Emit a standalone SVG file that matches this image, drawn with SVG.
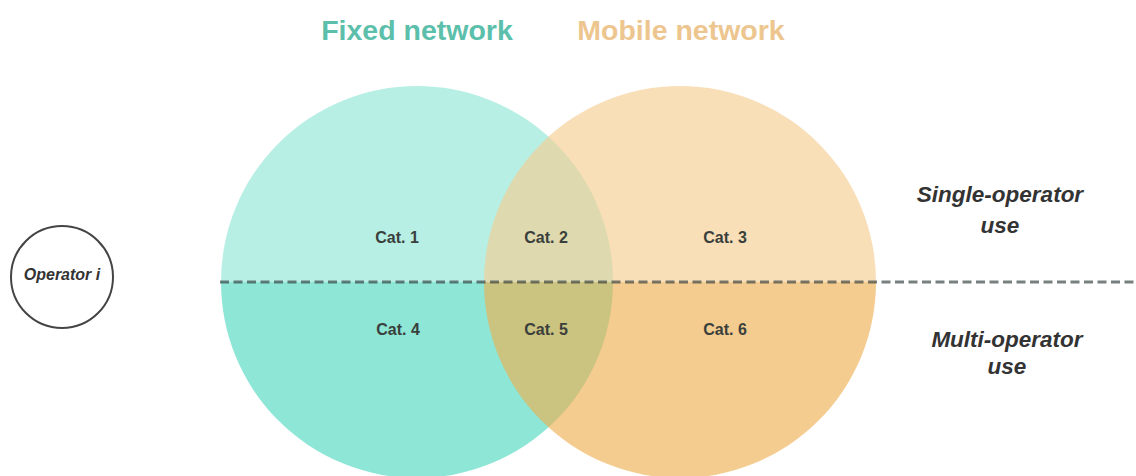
<svg xmlns="http://www.w3.org/2000/svg" width="1136" height="476" viewBox="0 0 1136 476">
<style>
.title{font-family:"Liberation Sans",Arial,sans-serif;font-weight:bold;font-size:28.5px;text-anchor:middle}
.cat{font-family:"Liberation Sans",Arial,sans-serif;font-weight:bold;font-size:16px;fill:#3a3f3c;text-anchor:middle}
.side{font-family:"Liberation Sans",Arial,sans-serif;font-weight:bold;font-style:italic;font-size:22.5px;fill:#333;text-anchor:middle}
.op{font-family:"Liberation Sans",Arial,sans-serif;font-weight:bold;font-style:italic;font-size:16px;fill:#333;text-anchor:middle}
</style>
<rect width="1136" height="476" fill="#fff"/>
<g id="fixed-network">
<circle cx="417" cy="282" r="196" fill="#72e0cc" fill-opacity="0.8"/>
</g>
<g id="mobile-network">
<circle cx="680" cy="282" r="196" fill="#eeaf50" fill-opacity="0.64"/>
</g>
<rect id="single-operator-tint" x="215" y="80" width="670" height="202" fill="#fff" fill-opacity="0.37"/>
<g id="connectors">
<line x1="220" y1="282" x2="1136" y2="282" stroke="#2f3b3a" stroke-opacity="0.65" stroke-width="3" stroke-dasharray="9 4.5"/>
</g>
<g id="titles">
<text class="title" x="417" y="40" fill="#5cbfab">Fixed network</text>
<text class="title" x="681" y="40" fill="#edc68f">Mobile network</text>
</g>
<g id="categories">
<text class="cat" x="397" y="243">Cat. 1</text>
<text class="cat" x="546" y="243">Cat. 2</text>
<text class="cat" x="725" y="243">Cat. 3</text>
<text class="cat" x="398" y="335">Cat. 4</text>
<text class="cat" x="546" y="335">Cat. 5</text>
<text class="cat" x="725" y="335">Cat. 6</text>
</g>
<g id="operator">
<circle cx="62" cy="277" r="51" fill="#fff" stroke="#444" stroke-width="2"/>
<text class="op" x="62" y="280">Operator i</text>
</g>
<g id="single-operator-use">
<text class="side" x="1000" y="202">Single-operator</text>
<text class="side" x="1000" y="233">use</text>
</g>
<g id="multi-operator-use">
<text class="side" x="1007" y="347">Multi-operator</text>
<text class="side" x="1007" y="374">use</text>
</g>
</svg>
